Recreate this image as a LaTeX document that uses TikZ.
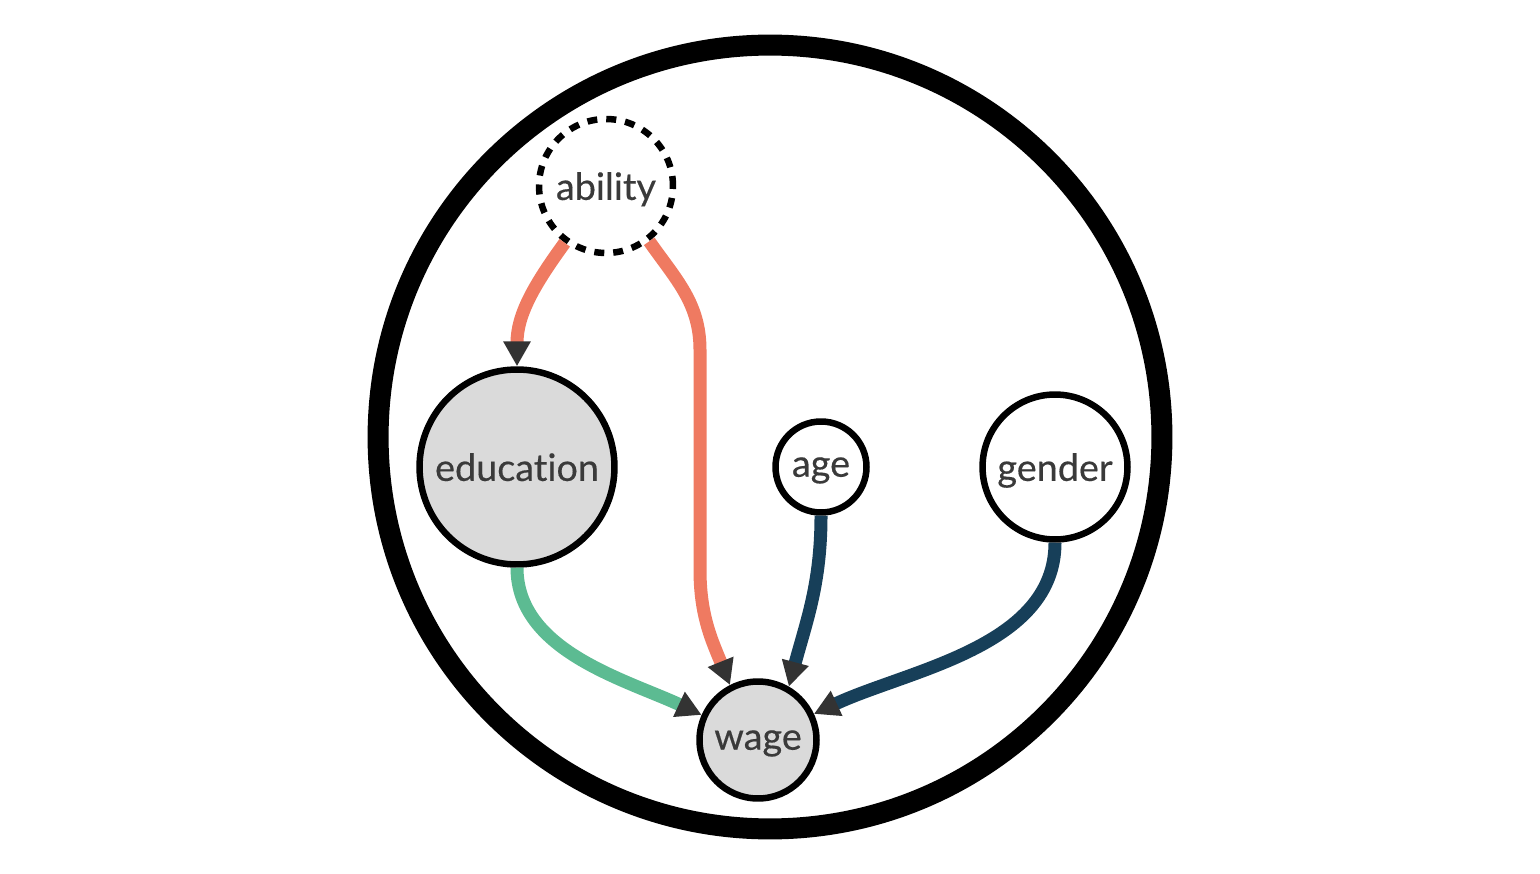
\documentclass[tikz,border=0pt]{standalone}
\usepackage{fontspec}
\setmainfont{Lato}[Ligatures=NoCommon,FakeBold=0.4]
\usetikzlibrary{arrows.meta,positioning}
\definecolor{edgeorange}{HTML}{EF7A61}
\definecolor{edgegreen}{HTML}{5CBB92}
\definecolor{edgenavy}{HTML}{173F59}
\definecolor{tipgray}{HTML}{333333}
\definecolor{nodegray}{HTML}{DADADA}
\definecolor{textgray}{HTML}{3A3A3A}
\tikzset{>={Triangle[length=0.5cm,width=0.52cm,color=tipgray]}}
\tikzset{var/.style={circle,draw=black,line width=0.13cm,inner sep=0pt,fill=white,
        text depth=0pt,text=textgray,font=\fontsize{21.5}{26}\selectfont}}
\tikzset{observed/.style={var,fill=nodegray},
         latent/.style={var,line width=0.13cm,dash pattern=on 0.2cm off 0.18cm},
         link/.style={->,line width=0.26cm}}

\begin{document}
\begin{tikzpicture}[x=0.02cm,y=-0.02cm]
                \useasboundingbox (0,0) rectangle (1540,874);
                \draw[line width=0.42cm] (770,437) circle[radius=7.84cm];
                \node[latent,minimum size=2.68cm] (ability) at (606,186) {ability};
                \node[observed,minimum size=3.9cm] (education) at (517,467) {education};
                \node[var,minimum size=1.82cm] (age) at (821,467) {age};
                \node[var,minimum size=2.9cm] (gender) at (1055,467) {gender};
                \node[observed,minimum size=2.34cm] (wage) at (758,740) {wage};
                % ability
                \draw[link,edgeorange] (ability.234) to[out=234,in=90] (education.north);
                \draw[link,edgeorange] (ability.308) to[out=-55,in=90] (700,350)
                    -- (700,570) to[out=-90,in=112] (wage.117);
                % observed causes
                \draw[link,edgegreen] (education.south) to[out=-90,in=155,looseness=0.9] (wage.156);
                \draw[link,edgenavy] (age.south) to[out=-90,in=75] (wage.60);
                \draw[link,edgenavy] (gender.south) to[out=-90,in=25,looseness=0.9] (wage.25);
            \end{tikzpicture}
\end{document}
